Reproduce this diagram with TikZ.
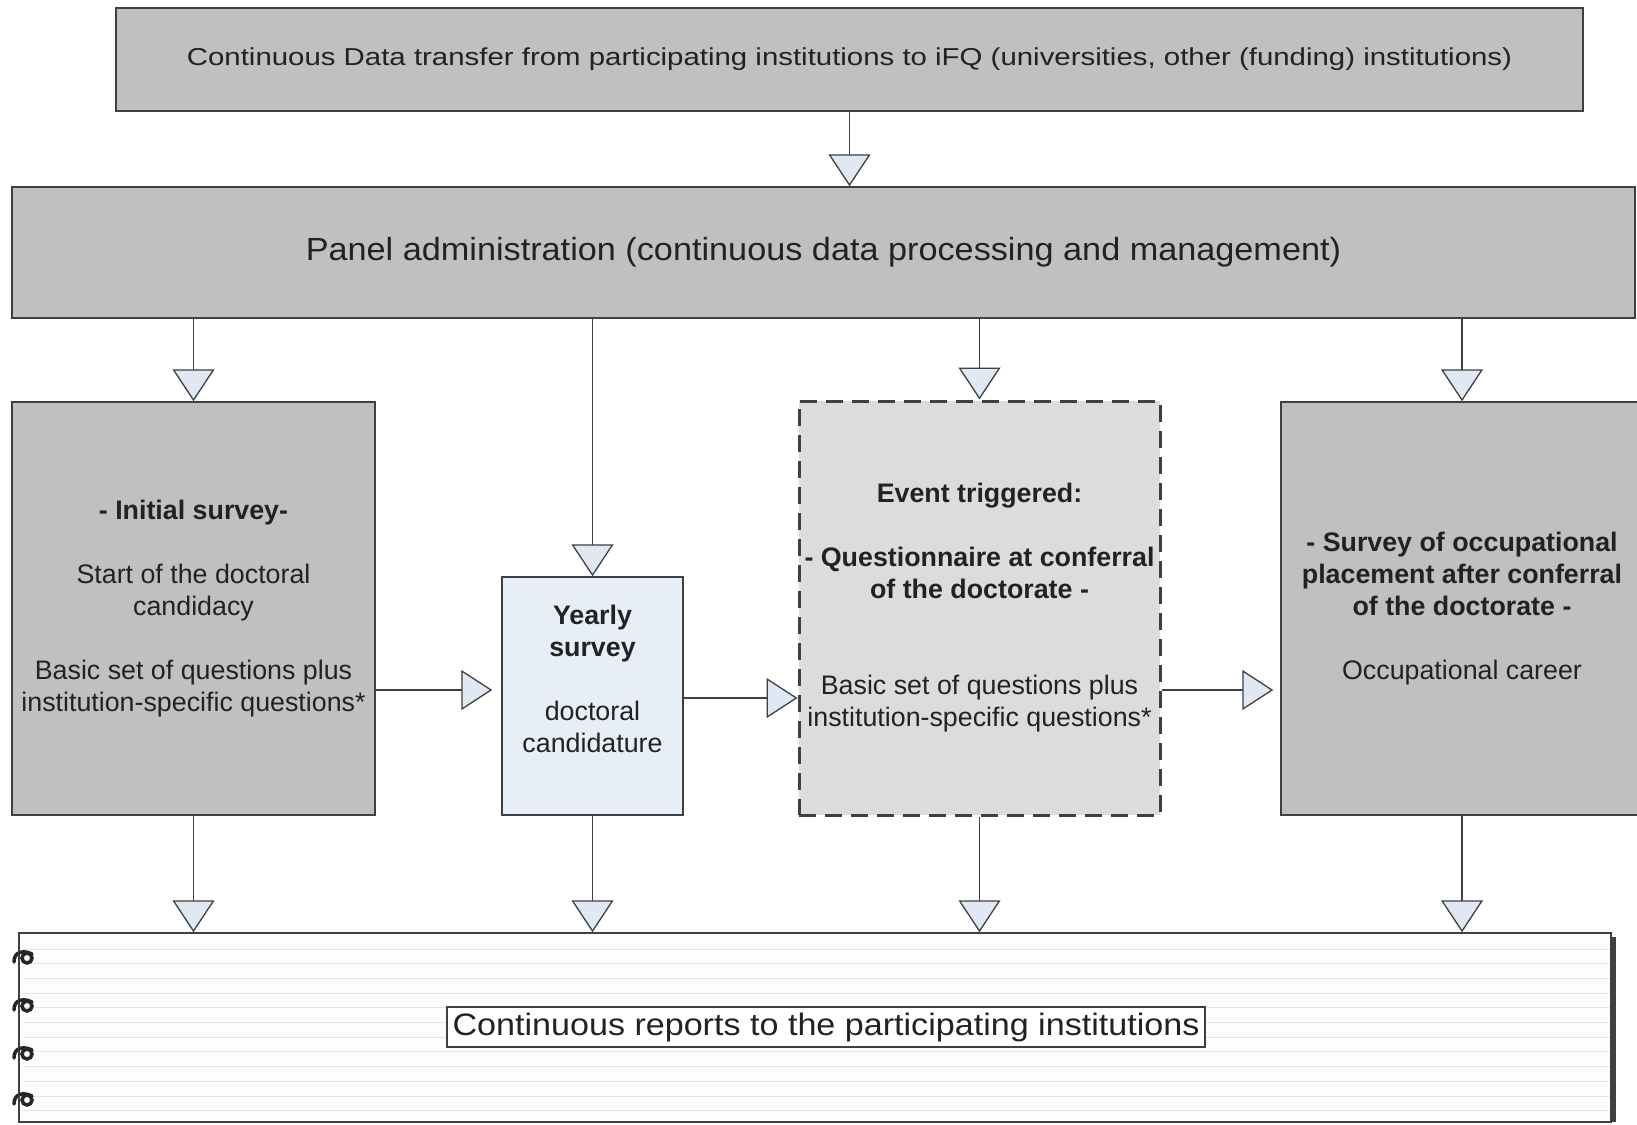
\documentclass[tikz,border=0pt]{standalone}
\usepackage{fontspec}
\setmainfont{Liberation Sans}
\newfontfamily\topfont[FakeStretch=1.2]{Liberation Sans}
\newfontfamily\panelfont[FakeStretch=1.07]{Liberation Sans}
\newfontfamily\repfont[FakeStretch=1.10]{Liberation Sans}
\usetikzlibrary{arrows.meta}
\definecolor{boxgray}{HTML}{C0C0C0}
\definecolor{eventgray}{HTML}{DCDCDC}
\definecolor{yearblue}{HTML}{E8EEF7}
\definecolor{arrowfill}{HTML}{E0E8F4}
\definecolor{edge}{HTML}{404040}
\definecolor{ink}{HTML}{222222}
\definecolor{ruled}{HTML}{E4E4E4}
\definecolor{paper}{HTML}{FDFDFD}
\tikzset{
  box/.style={draw=edge, line width=1.5pt, fill=boxgray, inner sep=0pt, align=center, text=ink},
  txt/.style={inner sep=0pt, align=center, text=ink, font=\fontsize{26.8}{32}\selectfont},
  arr/.style={draw=edge, line width=1.3pt, -{Triangle[length=32pt,width=42pt,fill=arrowfill,line width=1.3pt]}},
  harr/.style={draw=edge, line width=1.3pt, -{Triangle[length=31pt,width=40pt,fill=arrowfill,line width=1.3pt]}},
  spiral/.style={draw=black!85, line width=3.5pt, line cap=round}
}
\begin{document}
\begin{tikzpicture}[x=1pt,y=-1pt]
\useasboundingbox (0,0) rectangle (1637,1124);
\fill[white] (0,0) rectangle (1637,1124);

% top and panel
\node[box, minimum width=1467pt, minimum height=103pt, font=\topfont\fontsize{24.5}{30}\selectfont] (top) at (849.5,59.5)
  {\raisebox{-3pt}{Continuous Data transfer from participating institutions to iFQ (universities, other (funding) institutions)}};
\node[box, minimum width=1623pt, minimum height=131pt, font=\panelfont\fontsize{32}{38}\selectfont] (panel) at (823.5,252.5)
  {Panel administration (continuous data processing and management)};

% middle boxes
\node[box, minimum width=363pt, minimum height=413pt, font=\fontsize{26.8}{32}\selectfont] (initial) at (193.5,608.5)
  {\textbf{- Initial survey-}\\[32pt]Start of the doctoral\\candidacy\\[32pt]Basic set of questions plus\\institution-specific questions*};
\node[box, fill=yearblue, minimum width=181pt, minimum height=238pt] (yearly) at (592.5,696) {};
\node[txt] (yearlytxt) at (592.5,679)
  {\textbf{Yearly}\\\textbf{survey}\\[32pt]doctoral\\candidature};
\node[box, fill=eventgray, line width=3pt, dash pattern=on 17pt off 9pt, minimum width=361pt, minimum height=414pt, font=\fontsize{26.8}{32}\selectfont] (event) at (979.5,608)
  {\textbf{Event triggered:}\\[32pt]\textbf{- Questionnaire at conferral}\\\textbf{of the doctorate -}\\[64pt]Basic set of questions plus\\institution-specific questions*};
\node[box, minimum width=362pt, minimum height=413pt, font=\fontsize{26.8}{32}\selectfont] (career) at (1462,608.5)
  {\textbf{- Survey of occupational}\\\textbf{placement after conferral}\\\textbf{of the doctorate -}\\[32pt]Occupational career};

% notebook
\fill[edge] (1611,937) rectangle (1616,1122);
\node[draw=edge, line width=1.5pt, fill=paper, minimum width=1592pt, minimum height=189pt, inner sep=0pt] (note) at (815,1027.5) {};
\foreach \k in {0,...,11} {
  \draw[ruled, line width=1pt] (23,949+14.7*\k) -- (1610,949+14.7*\k);
}
\foreach \yy in {957,1005,1053,1099} {
  \draw[spiral] (27,\yy+1) circle[radius=5pt];
  \draw[spiral] (14,\yy+5) .. controls (14,\yy-6) and (24,\yy-7) .. (32,\yy-3);
}
\draw[edge, line width=1.5pt] (note.north west) -- (note.south west);
\node[draw=edge, line width=1.2pt, fill=white, minimum width=758pt, minimum height=40pt, inner sep=0pt, text=ink, font=\repfont\fontsize{31}{34}\selectfont] (report) at (826,1027)
  {Continuous reports to the participating institutions};

% connectors
\draw[arr] (top.south) -- (top.south |- panel.north);
\draw[arr] (panel.south -| initial.north) -- (initial.north);
\draw[arr] (panel.south -| yearly.north) -- (yearly.north);
\draw[arr] (panel.south -| event.north) -- (event.north);
\draw[arr] (panel.south -| career.north) -- (career.north);

\coordinate (h1) at (0,690);
\coordinate (h2) at (0,698);
\draw[harr, shorten >=9pt] (initial.east |- h1) -- (yearly.west |- h1);
\draw[harr] (yearly.east |- h2) -- (event.west |- h2);
\draw[harr, shorten >=7pt] (event.east |- h1) -- (career.west |- h1);

\draw[arr] (initial.south) -- (initial.south |- note.north);
\draw[arr] (yearly.south) -- (yearly.south |- note.north);
\draw[arr] (event.south) -- (event.south |- note.north);
\draw[arr] (career.south) -- (career.south |- note.north);
\end{tikzpicture}
\end{document}
